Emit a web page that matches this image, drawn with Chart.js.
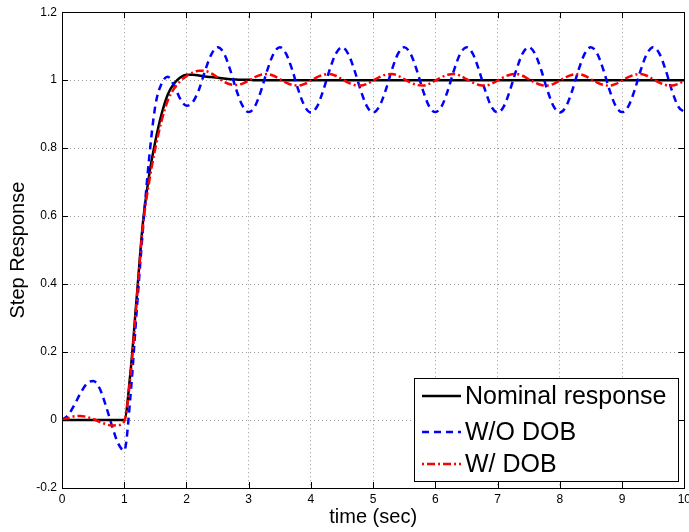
<!DOCTYPE html>
<html>
<head>
<meta charset="utf-8">
<script src="https://cdn.jsdelivr.net/npm/chart.js@4.4.1/dist/chart.umd.min.js"></script>
<style>
  html, body { margin: 0; padding: 0; background: #fff; overflow: hidden; }
  #wrap { position: absolute; left: 0; top: 0; width: 695px; height: 532px; }
</style>
</head>
<body>
<div id="wrap"><canvas id="step-chart"></canvas></div>
<script>
// tempo (s)
var times = [
  0, 0.1, 0.2, 0.3, 0.4, 0.5, 0.6, 0.7, 0.8, 0.9,
  1, 1.1, 1.2, 1.3, 1.4, 1.5, 1.6, 1.7, 1.8, 1.9,
  2, 2.1, 2.2, 2.3, 2.4, 2.5, 2.6, 2.7, 2.8, 2.9,
  3, 3.1, 3.2, 3.3, 3.4, 3.5, 3.6, 3.7, 3.8, 3.9,
  4, 4.1, 4.2, 4.3, 4.4, 4.5, 4.6, 4.7, 4.8, 4.9,
  5, 5.1, 5.2, 5.3, 5.4, 5.5, 5.6, 5.7, 5.8, 5.9,
  6, 6.1, 6.2, 6.3, 6.4, 6.5, 6.6, 6.7, 6.8, 6.9,
  7, 7.1, 7.2, 7.3, 7.4, 7.5, 7.6, 7.7, 7.8, 7.9,
  8, 8.1, 8.2, 8.3, 8.4, 8.5, 8.6, 8.7, 8.8, 8.9,
  9, 9.1, 9.2, 9.3, 9.4, 9.5, 9.6, 9.7, 9.8, 9.9,
  10
];

// resposta nominal
var nominal = [
  0, 0, 0, 0, 0, 0, 0, 0, 0, 0,
  0, 0.14, 0.36, 0.58, 0.72, 0.82, 0.90, 0.958, 0.99, 1.008,
  1.016, 1.016, 1.014, 1.011, 1.009, 1.007, 1.005, 1.003, 1.002, 1.001,
  1.001, 1, 1, 1, 1, 1, 1, 1, 1, 1,
  1, 1, 1, 1, 1, 1, 1, 1, 1, 1,
  1, 1, 1, 1, 1, 1, 1, 1, 1, 1,
  1, 1, 1, 1, 1, 1, 1, 1, 1, 1,
  1, 1, 1, 1, 1, 1, 1, 1, 1, 1,
  1, 1, 1, 1, 1, 1, 1, 1, 1, 1,
  1, 1, 1, 1, 1, 1, 1, 1, 1, 1,
  1
];

// sem DOB
var withoutDob = [
  0, 0.015, 0.045, 0.08, 0.107, 0.115, 0.095, 0.045, -0.015, -0.068,
  -0.09, 0.07, 0.32, 0.56, 0.77, 0.925, 0.99, 1.01, 0.985, 0.945,
  0.925, 0.935, 0.972, 1.028, 1.076, 1.097, 1.08, 1.032, 0.972, 0.925,
  0.906, 0.923, 0.970, 1.030, 1.078, 1.097, 1.078, 1.030, 0.970, 0.923,
  0.905, 0.923, 0.971, 1.030, 1.078, 1.097, 1.077, 1.029, 0.970, 0.923,
  0.905, 0.923, 0.970, 1.030, 1.078, 1.097, 1.078, 1.030, 0.970, 0.923,
  0.906, 0.923, 0.970, 1.030, 1.078, 1.097, 1.078, 1.030, 0.970, 0.922,
  0.905, 0.923, 0.971, 1.030, 1.078, 1.097, 1.078, 1.030, 0.970, 0.923,
  0.905, 0.923, 0.970, 1.030, 1.078, 1.097, 1.078, 1.030, 0.970, 0.923,
  0.906, 0.923, 0.970, 1.030, 1.078, 1.097, 1.078, 1.030, 0.970, 0.923,
  0.906
];

// com DOB
var withDob = [
  0, 0.006, 0.011, 0.012, 0.009, 0.003, -0.005, -0.012, -0.016, -0.015,
  -0.004, 0.13, 0.35, 0.57, 0.70, 0.80, 0.88, 0.94, 0.975, 0.997,
  1.012, 1.022, 1.028, 1.027, 1.02, 1.008, 0.996, 0.988, 0.986, 0.99,
  0.999, 1.009, 1.016, 1.018, 1.013, 1.003, 0.993, 0.986, 0.984, 0.989,
  0.999, 1.009, 1.016, 1.018, 1.013, 1.003, 0.993, 0.986, 0.984, 0.989,
  0.999, 1.009, 1.016, 1.018, 1.013, 1.003, 0.993, 0.986, 0.984, 0.989,
  0.999, 1.009, 1.016, 1.018, 1.013, 1.003, 0.993, 0.986, 0.984, 0.989,
  0.999, 1.009, 1.016, 1.018, 1.013, 1.003, 0.993, 0.986, 0.984, 0.989,
  0.999, 1.009, 1.016, 1.018, 1.013, 1.003, 0.993, 0.986, 0.984, 0.989,
  0.999, 1.009, 1.016, 1.018, 1.013, 1.003, 0.993, 0.986, 0.984, 0.989,
  0.999
];

var seriesNames = ['Nominal response', 'W/O DOB', 'W/ DOB'];
var FONT = '"Liberation Sans", Arial, Helvetica, sans-serif';

function pts(values) {
  return times.map(function(t, i) { return { x: t, y: values[i] }; });
}

// caixa, marcas internas e legenda no estilo MATLAB
var boxPlugin = {
  id: 'boxPlugin',
  afterDraw: function(chart) {
    var ctx = chart.ctx;
    var a = chart.chartArea;
    var xs = chart.scales.x, ys = chart.scales.y;
    ctx.save();
    ctx.strokeStyle = '#000';
    ctx.lineWidth = 1;
    ctx.setLineDash([]);
    ctx.strokeRect(Math.round(a.left) + 0.5, Math.round(a.top) + 0.5,
      Math.round(a.right - a.left), Math.round(a.bottom - a.top));
    ctx.beginPath();
    xs.ticks.forEach(function(t) {
      var px = Math.round(xs.getPixelForValue(t.value)) + 0.5;
      ctx.moveTo(px, a.bottom); ctx.lineTo(px, a.bottom - 6);
      ctx.moveTo(px, a.top); ctx.lineTo(px, a.top + 6);
    });
    ys.ticks.forEach(function(t) {
      var py = Math.round(ys.getPixelForValue(t.value)) + 0.5;
      ctx.moveTo(a.left, py); ctx.lineTo(a.left + 6, py);
      ctx.moveTo(a.right, py); ctx.lineTo(a.right - 6, py);
    });
    ctx.stroke();

    // legenda
    var lx = 414.5, ly = 378.5, lw = 264, lh = 103;
    ctx.fillStyle = '#fff';
    ctx.fillRect(lx, ly, lw, lh);
    ctx.strokeRect(lx, ly, lw, lh);
    var rows = [396, 432, 464];
    var styles = [
      { color: '#000000', dash: [] },
      { color: '#0000ff', dash: [7, 5] },
      { color: '#ff0000', dash: [2, 3, 8, 3] }
    ];
    ctx.font = '25px ' + FONT;
    ctx.textBaseline = 'middle';
    ctx.textAlign = 'left';
    for (var i = 0; i < 3; i++) {
      ctx.strokeStyle = styles[i].color;
      ctx.lineWidth = 2.5;
      ctx.setLineDash(styles[i].dash);
      ctx.beginPath();
      ctx.moveTo(422, rows[i]);
      ctx.lineTo(461, rows[i]);
      ctx.stroke();
      ctx.fillStyle = '#000';
      ctx.fillText(seriesNames[i], 465, rows[i] + 1);
    }
    ctx.restore();
  }
};

var ctx = document.getElementById('step-chart').getContext('2d');
var chart = new Chart(ctx, {
  type: 'line',
  data: {
    datasets: [
      { label: seriesNames[2], data: pts(withDob), borderColor: '#ff0000', borderWidth: 2.5,
        borderDash: [8, 3, 2, 3], order: 0 },
      { label: seriesNames[1], data: pts(withoutDob), borderColor: '#0000ff', borderWidth: 2.5,
        borderDash: [7, 5], order: 1 },
      { label: seriesNames[0], data: pts(nominal), borderColor: '#000000', borderWidth: 2.5,
        order: 2 }
    ]
  },
  options: {
    responsive: true,
    maintainAspectRatio: false,
    animation: false,
    devicePixelRatio: 1,
    layout: { padding: { top: 3, right: 0, bottom: 0, left: 0 } },
    elements: {
      point: { radius: 0, hoverRadius: 0 },
      line: { fill: false, cubicInterpolationMode: 'monotone', borderCapStyle: 'butt' }
    },
    plugins: { legend: { display: false }, tooltip: { enabled: false } },
    scales: {
      x: {
        type: 'linear', min: 0, max: 10,
        ticks: { stepSize: 1, color: '#000', padding: 4, maxRotation: 0,
          font: { family: FONT, size: 12 } },
        grid: { color: '#999999', lineWidth: 1, drawTicks: false },
        border: { display: false, dash: [1, 3] },
        title: { display: true, text: 'time (sec)', color: '#000',
          font: { family: FONT, size: 20 }, padding: { top: 0, bottom: 3 } },
        afterFit: function(scale) { scale.height = 44; }
      },
      y: {
        type: 'linear', min: -0.2, max: 1.2,
        ticks: { stepSize: 0.2, color: '#000', padding: 5,
          font: { family: FONT, size: 12 },
          callback: function(v) { return String(Number(v.toFixed(1))); } },
        grid: { color: '#999999', lineWidth: 1, drawTicks: false },
        border: { display: false, dash: [1, 3] },
        title: { display: true, text: 'Step Response', color: '#000',
          font: { family: FONT, size: 20 }, padding: { top: 6, bottom: 0 } },
        afterFit: function(scale) { scale.width = 62; }
      }
    }
  },
  plugins: [boxPlugin]
});
</script>
</body>
</html>
